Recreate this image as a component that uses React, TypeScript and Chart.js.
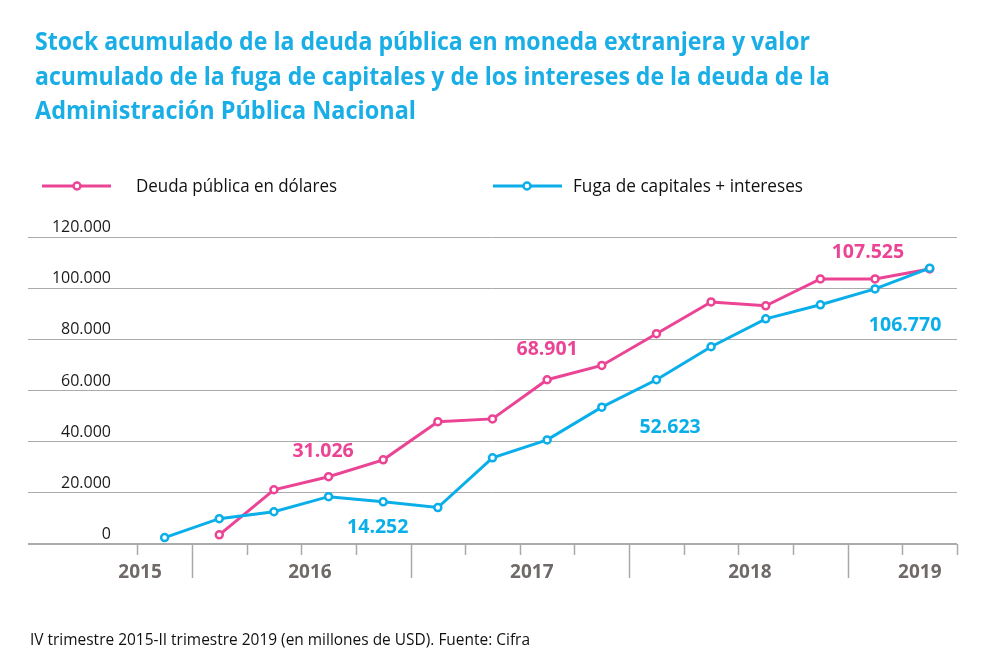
import React, { useEffect, useRef } from "react";
import { Chart, registerables } from "chart.js";

Chart.register(...registerables);

// ---------- DATA ----------
const quarters = [
  "IV-2015",
  "I-2016", "II-2016", "III-2016", "IV-2016",
  "I-2017", "II-2017", "III-2017", "IV-2017",
  "I-2018", "II-2018", "III-2018", "IV-2018",
  "I-2019", "II-2019",
];
const deudaPublica: (number | null)[] = [
  null, 3600, 21200, 26300, 32900, 47800, 48900, 64200, 69800, 82200, 94600, 93100, 103600, 103600, 107525,
];
const fugaIntereses: number[] = [
  2500, 9900, 12600, 18500, 16500, 14252, 33700, 40700, 53500, 64200, 77100, 88000, 93500, 99700, 107800,
];
const yTickValues = [0, 20000, 40000, 60000, 80000, 100000, 120000];
const years = ["2015", "2016", "2017", "2018", "2019"];
const yearLabelX = [-0.45, 2.66, 6.72, 10.71, 13.82];
const yearBoundaries = [0.5, 4.5, 8.5, 12.5];
const labelTexts = ["31.026", "14.252", "68.901", "52.623", "107.525", "106.770"];
const labelSeries = ["deuda", "fuga", "deuda", "fuga", "deuda", "fuga"];
const labelX = [2.9, 3.9, 7.0, 9.25, 12.87, 13.55];
const labelY = [36000, 6400, 75900, 45400, 113800, 85600];

const TITLE_LINES = [
  "Stock acumulado de la deuda pública en moneda extranjera y valor",
  "acumulado de la fuga de capitales y de los intereses de la deuda de la",
  "Administración Pública Nacional",
];
const LEGEND_DEUDA = "Deuda pública en dólares";
const LEGEND_FUGA = "Fuga de capitales + intereses";
const FOOTNOTE = "IV trimestre 2015-II trimestre 2019 (en millones de USD). Fuente: Cifra";

// ---------- STYLE ----------
const PINK = "#EC4495";
const BLUE = "#0AAEE9";
const TITLE_BLUE = "#1AAEE6";
const GRID = "#ababab";
const FONT = '"Open Sans", "Noto Sans", sans-serif';

function fitText(
  ctx: CanvasRenderingContext2D,
  text: string,
  x: number,
  y: number,
  width: number
) {
  const w = ctx.measureText(text).width;
  const s = width / w;
  ctx.save();
  ctx.translate(x, y);
  ctx.scale(s, 1);
  ctx.textAlign = "left";
  ctx.fillText(text, 0, 0);
  ctx.restore();
}

const decorPlugin = {
  id: "decor",
  afterDraw(chart: any) {
    const ctx: CanvasRenderingContext2D = chart.ctx;
    const xs = chart.scales.x;
    const ys = chart.scales.y;
    ctx.save();

    // Title
    ctx.fillStyle = TITLE_BLUE;
    ctx.font = `bold 25px ${FONT}`;
    ctx.textBaseline = "alphabetic";
    const titleBase = [50, 85, 119];
    const titleW = [775, 795, 381];
    TITLE_LINES.forEach((t, i) => fitText(ctx, t, 35, titleBase[i], titleW[i]));

    // Legend
    const drawLegendMarker = (x0: number, x1: number, cx: number, y: number, color: string) => {
      ctx.strokeStyle = color;
      ctx.lineWidth = 3;
      ctx.beginPath();
      ctx.moveTo(x0, y);
      ctx.lineTo(x1, y);
      ctx.stroke();
      ctx.beginPath();
      ctx.arc(cx, y, 3.5, 0, Math.PI * 2);
      ctx.fillStyle = "#fff";
      ctx.fill();
      ctx.lineWidth = 2.5;
      ctx.stroke();
    };
    drawLegendMarker(42, 111, 77, 186, PINK);
    drawLegendMarker(493, 562, 527, 186, BLUE);
    ctx.fillStyle = "#111";
    ctx.font = `18px ${FONT}`;
    ctx.textBaseline = "alphabetic";
    fitText(ctx, LEGEND_DEUDA, 136, 192, 201);
    fitText(ctx, LEGEND_FUGA, 573, 192, 230);

    // Y labels
    ctx.font = `16px ${FONT}`;
    ctx.fillStyle = "#1a1a1a";
    ctx.textAlign = "right";
    ctx.textBaseline = "alphabetic";
    yTickValues.forEach((v) => {
      const y = ys.getPixelForValue(v);
      ctx.fillText(v === 0 ? "0" : v.toLocaleString("de-DE"), 111, y - 5);
    });

    // X ticks
    ctx.strokeStyle = "#a9a9a9";
    ctx.lineWidth = 1.5;
    const base = ys.getPixelForValue(0);
    for (let b = -0.5; b <= quarters.length - 0.5 + 1e-6; b += 1) {
      const big = yearBoundaries.some((yb) => Math.abs(yb - b) < 1e-6);
      const x = Math.round(xs.getPixelForValue(b)) + 0.5;
      ctx.beginPath();
      ctx.moveTo(x, base);
      ctx.lineTo(x, base + (big ? 34 : 11));
      ctx.stroke();
    }

    // Year labels
    ctx.font = `bold 19px ${FONT}`;
    ctx.fillStyle = "#6f6a68";
    ctx.textAlign = "center";
    ctx.textBaseline = "middle";
    years.forEach((yr, i) => {
      ctx.fillText(yr, xs.getPixelForValue(yearLabelX[i]), base + 29);
    });

    // Value annotations
    ctx.font = `bold 19.5px ${FONT}`;
    ctx.textAlign = "center";
    ctx.textBaseline = "middle";
    labelTexts.forEach((t, i) => {
      ctx.fillStyle = labelSeries[i] === "deuda" ? PINK : BLUE;
      ctx.fillText(t, xs.getPixelForValue(labelX[i]), ys.getPixelForValue(labelY[i]));
    });

    // Footnote
    ctx.font = `17px ${FONT}`;
    ctx.fillStyle = "#111";
    ctx.textBaseline = "alphabetic";
    fitText(ctx, FOOTNOTE, 30, 645, 500);

    ctx.restore();
  },
};

export default function App() {
  const ref = useRef<HTMLCanvasElement | null>(null);

  useEffect(() => {
    if (!ref.current) return;
    const chart = new Chart(ref.current, {
      type: "line",
      data: {
        datasets: [
          {
            label: LEGEND_FUGA,
            data: fugaIntereses.map((v, i) => ({ x: i, y: v })),
            borderColor: BLUE,
            borderWidth: 3,
            pointRadius: 3.5,
            pointBorderWidth: 2.5,
            pointBackgroundColor: "#fff",
            pointBorderColor: BLUE,
            tension: 0,
          },
          {
            label: LEGEND_DEUDA,
            data: deudaPublica.map((v, i) => ({ x: i, y: v })),
            borderColor: PINK,
            borderWidth: 3,
            pointRadius: 3.5,
            pointBorderWidth: 2.5,
            pointBackgroundColor: "#fff",
            pointBorderColor: PINK,
            tension: 0,
          },
        ],
      },
      options: {
        responsive: false,
        animation: false,
        devicePixelRatio: 1,
        layout: { padding: { left: 28, right: 43, top: 237, bottom: 123 } },
        plugins: {
          legend: { display: false },
          tooltip: { enabled: false },
          title: { display: false },
        },
        scales: {
          x: {
            type: "linear",
            min: -2.5,
            max: quarters.length - 0.5,
            display: false,
          },
          y: {
            min: 0,
            max: 120000,
            ticks: { display: false, stepSize: 20000 },
            border: { display: false },
            grid: {
              drawTicks: false,
              color: GRID,
              lineWidth: (c: any) => (c.tick && c.tick.value === 0 ? 2 : 1),
            },
          },
        },
      },
      plugins: [decorPlugin],
    });
    return () => chart.destroy();
  }, []);

  return (
    <div style={{ position: "absolute", left: 0, top: 0, width: 1000, height: 667, background: "#fff" }}>
      <canvas ref={ref} width={1000} height={667} style={{ display: "block" }} />
    </div>
  );
}
